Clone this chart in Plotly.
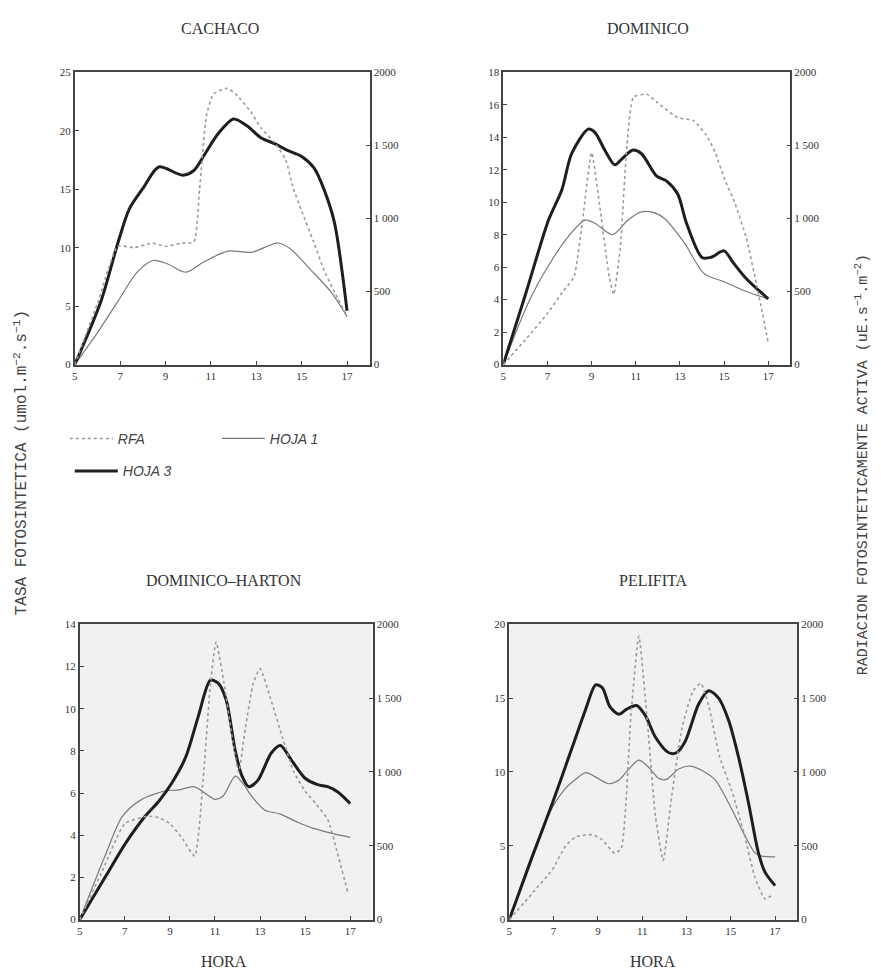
import plotly.graph_objects as go

# ---------------- DATA ----------------
hour_ticks = [5, 7, 9, 11, 13, 15, 17]
rfa_ticks = [0, 500, 1000, 1500, 2000]
rfa_ticktext = ["0", "500", "1 000", "1 500", "2000"]

panel_titles = ["CACHACO", "DOMINICO", "DOMINICO\u2013HARTON", "PELIFITA"]
left_ranges = [25, 18, 14, 20]
left_dticks = [5, 2, 2, 5]

# CACHACO
cach_h3_x = [5, 6.15, 6.9, 7.4, 8.05, 8.7, 9.75, 10.25, 10.7, 11.3, 12.0, 12.6, 13.2, 13.8, 14.4, 15.0, 15.55, 16.0, 16.45, 17.0]
cach_h3_y = [0, 5.4, 10.4, 13.3, 15.2, 16.9, 16.2, 16.6, 17.9, 19.7, 21.0, 20.4, 19.4, 18.9, 18.3, 17.8, 16.8, 14.9, 12.1, 4.6]
cach_h1_x = [5, 5.85, 6.9, 7.75, 8.45, 9.1, 9.9, 10.7, 11.75, 12.8, 13.95, 14.5, 15.4, 16.3, 17.0]
cach_h1_y = [0, 2.3, 5.4, 7.9, 8.9, 8.6, 7.9, 8.8, 9.7, 9.6, 10.4, 9.9, 8.1, 6.2, 4.1]
cach_rfa_x = [5, 6.0, 6.9, 7.6, 8.4, 9.0, 9.7, 10.25, 10.5, 10.8, 11.1, 11.7, 12.1, 12.8, 13.2, 13.8, 14.3, 14.6, 15.0, 15.5, 16.0, 16.5, 17.0]
cach_rfa_y = [0, 420, 810, 800, 830, 810, 830, 840, 1200, 1700, 1850, 1890, 1850, 1720, 1620, 1520, 1400, 1220, 1050, 850, 640, 480, 330]

# DOMINICO
dom_h3_x = [5, 6.0, 7.05, 7.65, 8.1, 8.85, 9.15, 9.6, 10.05, 10.4, 10.85, 11.25, 11.95, 12.4, 12.9, 13.3, 14.0, 14.4, 15.0, 15.4, 16.0, 17.0]
dom_h3_y = [0, 4.3, 8.9, 10.75, 13.0, 14.5, 14.3, 13.2, 12.3, 12.7, 13.2, 13.0, 11.6, 11.3, 10.5, 8.7, 6.6, 6.6, 7.0, 6.3, 5.3, 4.05]
dom_h1_x = [5, 6.15, 7.05, 7.95, 8.7, 9.15, 9.95, 10.65, 11.25, 11.7, 12.3, 13.2, 14.1, 15.0, 16.0, 17.0]
dom_h1_y = [0, 3.85, 6.1, 7.9, 8.9, 8.7, 8.0, 8.9, 9.4, 9.4, 9.0, 7.5, 5.6, 5.1, 4.5, 4.05]
dom_rfa_x = [5, 6.0, 7.0, 7.7, 8.2, 8.6, 9.0, 9.4, 9.8, 10.0, 10.3, 10.6, 10.9, 11.5, 12.0, 12.9, 13.6, 14.2, 14.6, 15.0, 15.5, 16.0, 16.4, 16.7, 17.0]
dom_rfa_y = [0, 170, 350, 500, 600, 1000, 1450, 1050, 600, 480, 800, 1500, 1830, 1850, 1790, 1690, 1670, 1570, 1450, 1280, 1100, 870, 600, 380, 150]

# DOMINICO-HARTON
dh_h3_x = [5, 6.15, 7.05, 7.9, 8.5, 9.1, 9.7, 10.25, 10.8, 11.15, 11.5, 11.9, 12.2, 12.5, 12.9, 13.5, 13.9, 14.4, 15.0, 15.55, 16.0, 16.45, 17.0]
dh_h3_y = [0, 2.05, 3.65, 4.9, 5.6, 6.5, 7.7, 9.6, 11.35, 11.2, 10.4, 8.0, 6.8, 6.3, 6.6, 7.9, 8.25, 7.55, 6.7, 6.4, 6.3, 6.05, 5.5]
dh_h1_x = [5, 6.15, 6.9, 7.75, 8.8, 9.4, 10.05, 10.35, 11.0, 11.35, 11.9, 12.2, 12.7, 13.2, 13.9, 14.7, 15.3, 16.15, 17.0]
dh_h1_y = [0, 3.1, 4.9, 5.7, 6.1, 6.15, 6.3, 6.15, 5.7, 5.85, 6.8, 6.5, 5.75, 5.2, 5.0, 4.6, 4.35, 4.1, 3.9]
dh_rfa_x = [5, 6.0, 7.0, 8.0, 8.5, 9.0, 9.5, 10.1, 10.5, 10.8, 11.05, 11.4, 11.8, 12.05, 12.35, 12.7, 13.0, 13.5, 14.0, 14.5, 15.0, 15.5, 16.0, 16.4, 16.9]
dh_rfa_y = [0, 330, 650, 700, 690, 650, 560, 430, 1000, 1600, 1880, 1600, 1200, 1000, 1300, 1600, 1700, 1480, 1230, 1000, 870, 780, 680, 470, 180]

# PELIFITA
pel_h3_x = [5, 6.05, 6.95, 7.85, 8.45, 8.9, 9.2, 9.55, 9.95, 10.3, 10.75, 11.15, 11.6, 12.2, 12.55, 12.95, 13.55, 14.0, 14.45, 14.9, 15.35, 15.8, 16.25, 16.55, 17.0]
pel_h3_y = [0, 4.3, 7.9, 11.7, 14.25, 15.9, 15.7, 14.4, 13.9, 14.25, 14.5, 13.8, 12.35, 11.3, 11.3, 12.1, 14.6, 15.5, 15.0, 13.5, 11.0, 7.9, 4.5, 3.2, 2.3]
pel_h1_x = [5, 6.05, 6.95, 7.55, 8.0, 8.45, 8.9, 9.5, 9.95, 10.4, 10.85, 11.3, 11.75, 12.1, 12.65, 13.15, 13.7, 14.3, 14.9, 15.5, 16.1, 16.4, 17.0]
pel_h1_y = [0, 4.5, 7.6, 8.9, 9.5, 9.95, 9.65, 9.2, 9.45, 10.2, 10.8, 10.3, 9.55, 9.5, 10.2, 10.4, 10.1, 9.45, 7.9, 6.1, 4.5, 4.3, 4.25]
pel_rfa_x = [5, 6.05, 6.95, 7.55, 8.0, 8.75, 9.2, 9.75, 10.05, 10.5, 10.85, 11.2, 11.6, 11.95, 12.3, 12.8, 13.3, 13.65, 14.0, 14.5, 15.05, 15.6, 16.1, 16.55, 16.9]
pel_rfa_y = [0, 180, 340, 500, 560, 575, 540, 450, 480, 1400, 1920, 1400, 700, 400, 800, 1300, 1550, 1600, 1450, 1100, 870, 580, 280, 140, 170]

panels = [
    (cach_rfa_x, cach_rfa_y, cach_h1_x, cach_h1_y, cach_h3_x, cach_h3_y),
    (dom_rfa_x, dom_rfa_y, dom_h1_x, dom_h1_y, dom_h3_x, dom_h3_y),
    (dh_rfa_x, dh_rfa_y, dh_h1_x, dh_h1_y, dh_h3_x, dh_h3_y),
    (pel_rfa_x, pel_rfa_y, pel_h1_x, pel_h1_y, pel_h3_x, pel_h3_y),
]

# ---------------- LAYOUT ----------------
# The page body has an 8px margin; size the figure to fit the window and
# express positions in window pixels.
OFF = 8
W, H = 881 - 2 * OFF, 979 - 2 * OFF


def PX(px):
    return (px - OFF) / W


def PY(py):
    return 1 - (py - OFF) / H


boxes = [(72, 368, 67, 363), (502, 790, 67, 363), (77, 371, 626, 925), (508, 797, 626, 925)]
title_pos = [(218, 23), (647, 23), (222, 582), (652, 582)]

SERIF = "Liberation Serif"
tick_font = dict(family=SERIF, size=11, color="#333")
AX = "#444"

fig = go.Figure()
layout = dict(width=W, height=H, margin=dict(l=0, r=0, t=0, b=0),
              paper_bgcolor="white", plot_bgcolor="white", shapes=[], annotations=[])

for i, (box, data) in enumerate(zip(boxes, panels)):
    l, r, t, b = box
    xd = [PX(l), PX(r)]
    yd = [PY(b), PY(t)]
    xn = "x" if i == 0 else f"x{i+1}"
    yl = 2 * i + 1
    yr = 2 * i + 2
    yln = "y" if yl == 1 else f"y{yl}"
    yrn = f"y{yr}"
    xkey = "xaxis" if i == 0 else f"xaxis{i+1}"
    ylkey = "yaxis" if yl == 1 else f"yaxis{yl}"
    yrkey = f"yaxis{yr}"
    layout[xkey] = dict(domain=xd, range=[5, 18], anchor=yln, tickvals=hour_ticks,
                        ticks="inside", ticklen=4, tickcolor=AX, showline=True, mirror=True,
                        linecolor=AX, linewidth=1.5, showgrid=False, zeroline=False,
                        tickfont=tick_font)
    layout[ylkey] = dict(domain=yd, range=[0, left_ranges[i]], dtick=left_dticks[i], anchor=xn,
                         ticks="inside", ticklen=4, tickcolor=AX, showline=True, linecolor=AX,
                         linewidth=1.5, showgrid=False, zeroline=False, tickfont=tick_font)
    layout[yrkey] = dict(overlaying=yln, side="right", anchor=xn, range=[0, 2000],
                         tickvals=rfa_ticks, ticktext=rfa_ticktext, ticks="inside", ticklen=4,
                         tickcolor=AX, showline=True, linecolor=AX, linewidth=1.5,
                         showgrid=False, zeroline=False, tickfont=tick_font)
    if i >= 2:
        layout["shapes"].append(dict(type="rect", xref="paper", yref="paper", x0=xd[0], x1=xd[1],
                                     y0=yd[0], y1=yd[1], fillcolor="#f1f1f1", line=dict(width=0),
                                     layer="below"))
    rx, ry, h1x, h1y, h3x, h3y = data
    show = i == 0
    fig.add_trace(go.Scatter(x=rx, y=ry, xaxis=xn, yaxis=yrn, mode="lines", name="RFA",
                             line=dict(color="#9a9a9a", width=1.6, dash="dot", shape="spline", smoothing=0.5),
                             showlegend=show, legend="legend"))
    fig.add_trace(go.Scatter(x=h1x, y=h1y, xaxis=xn, yaxis=yln, mode="lines", name="HOJA 1",
                             line=dict(color="#7a7a7a", width=1.2, shape="spline", smoothing=0.8),
                             showlegend=show, legend="legend"))
    fig.add_trace(go.Scatter(x=h3x, y=h3y, xaxis=xn, yaxis=yln, mode="lines", name="HOJA 3",
                             line=dict(color="#1e1e1e", width=3, shape="spline", smoothing=0.8),
                             showlegend=show, legend="legend2"))
    tx, ty = title_pos[i]
    layout["annotations"].append(dict(text=panel_titles[i], x=PX(tx), y=PY(ty), xref="paper",
                                      yref="paper", showarrow=False, xanchor="center", yanchor="middle",
                                      font=dict(family=SERIF, size=16, color="#333")))

for cx in (222, 652):
    layout["annotations"].append(dict(text="HORA", x=PX(cx), y=PY(967), xref="paper", yref="paper",
                                      showarrow=False, xanchor="center", yanchor="middle",
                                      font=dict(family=SERIF, size=16, color="#333")))

MONO = "Liberation Mono"
layout["annotations"].append(dict(
    text="TASA FOTOSINTETICA (umol.m<sup>\u22122</sup>.s<sup>\u22121</sup>)",
    x=PX(18), y=PY(462), xref="paper", yref="paper", showarrow=False, textangle=-90,
    xanchor="center", yanchor="middle",
    font=dict(family=MONO, size=16, color="#444")))
layout["annotations"].append(dict(
    text="RADIACION FOTOSINTETICAMENTE ACTIVA (uE.s<sup>\u22121</sup>.m<sup>\u22122</sup>)",
    x=PX(862), y=PY(465), xref="paper", yref="paper", showarrow=False, textangle=-90,
    xanchor="center", yanchor="middle",
    font=dict(family=MONO, size=15, color="#444")))

leg_font = dict(family="Liberation Sans", size=14, color="#444", style="italic")
layout["legend"] = dict(x=PX(62), y=PY(422), xanchor="left", yanchor="top", orientation="h",
                        font=leg_font, bgcolor="rgba(0,0,0,0)", itemwidth=43,
                        entrywidth=94, entrywidthmode="pixels")
layout["legend2"] = dict(x=PX(67), y=PY(455), xanchor="left", yanchor="top", orientation="h",
                         font=leg_font, bgcolor="rgba(0,0,0,0)", itemwidth=43)

fig.update_layout(**layout)
fig.write_html("out.html")
